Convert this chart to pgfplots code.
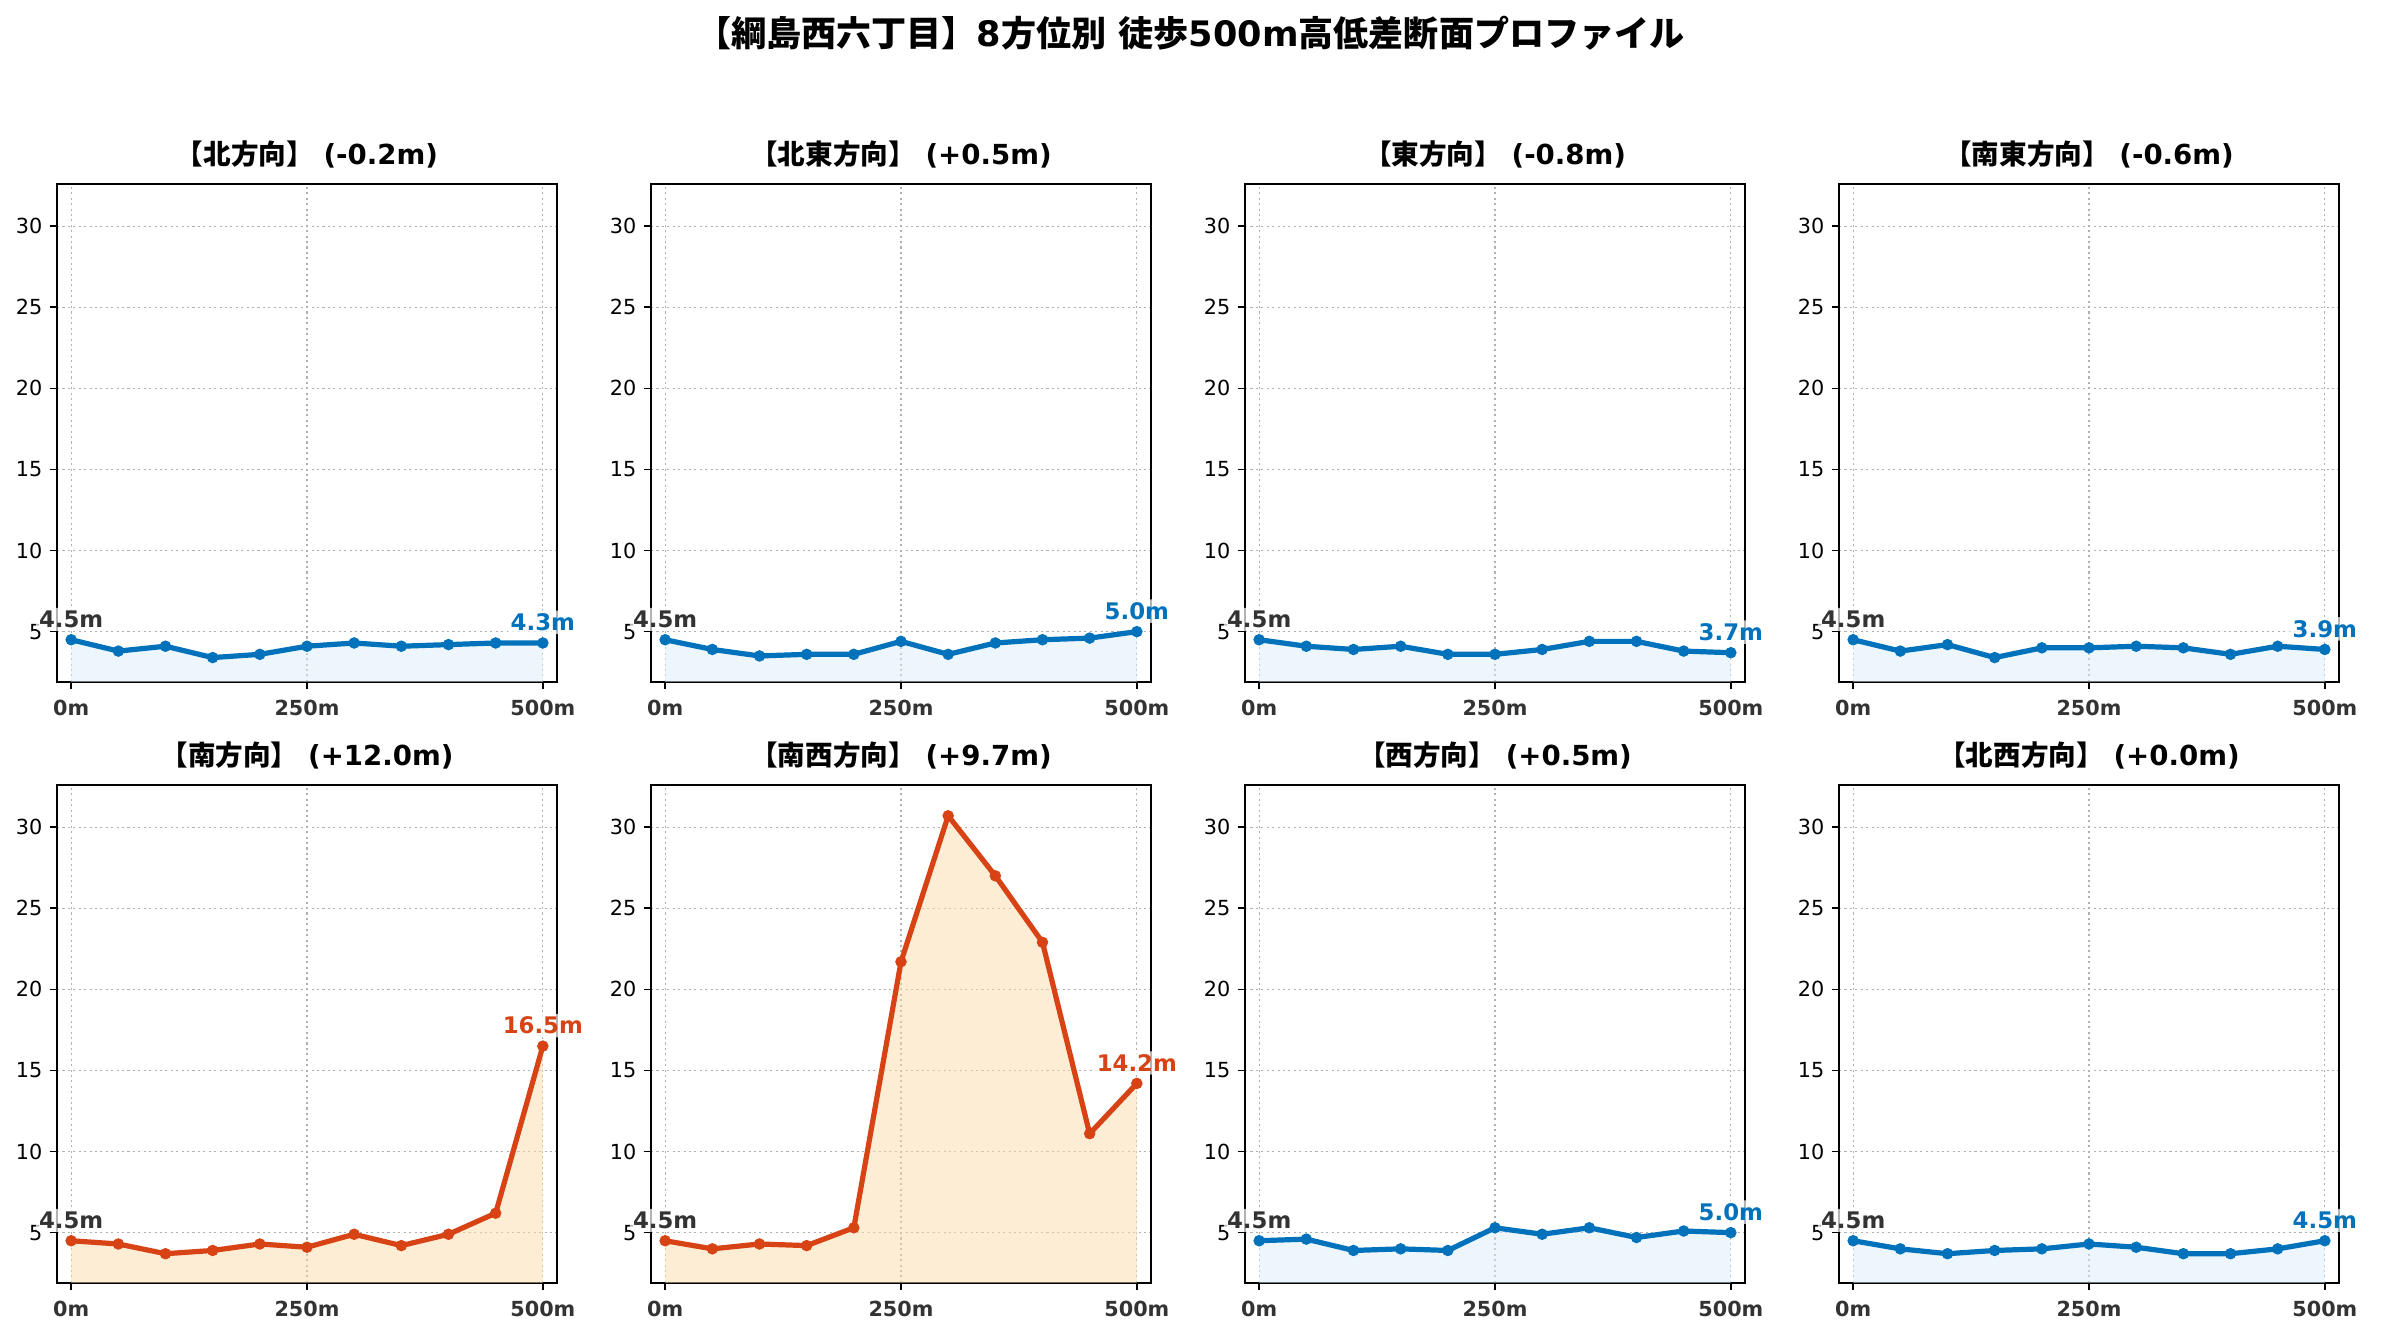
\documentclass[border=0pt]{standalone}
\usepackage{fontspec}
\setmainfont{DejaVu Sans}
\newfontfamily\cjk{Noto Sans CJK JP}
\usepackage{pgfplots}
\pgfplotsset{compat=1.18}
\definecolor{lblue}{HTML}{0072BC}
\definecolor{fblue}{HTML}{D9EDF9}
\definecolor{lred}{HTML}{D84315}
\definecolor{fred}{HTML}{FBDBA9}
\definecolor{txtgray}{HTML}{333333}
\definecolor{gridgray}{HTML}{B0B0B0}
\tikzset{lab/.style={anchor=south, yshift=4bp, fill=white, fill opacity=0.7, text opacity=1, rounded corners=2bp, inner sep=1.5bp, font=\fontsize{11}{13}\selectfont\bfseries}}
\pgfplotsset{
 prof/.style={
  scale only axis, width=240bp, height=239bp,
  xmin=-15, xmax=515, ymin=1.9, ymax=32.6,
  xtick={0,250,500}, xticklabels={0m,250m,500m},
  ytick={5,10,15,20,25,30}, yticklabels={5,10,15,20,25,30},
  xticklabel style={font=\fontsize{10}{12}\selectfont\bfseries, text=txtgray, yshift=-1.5bp},
  yticklabel style={font=\fontsize{10}{12}\selectfont},
  tick align=outside, tick pos=left, major tick length=3.5bp,
  every tick/.style={black, line width=0.8bp},
  axis line style={line width=0.8bp},
  grid=major, major grid style={gridgray, line width=0.6bp, dash pattern=on 1bp off 1.6bp},
  title style={font=\fontsize{13.3}{16}\selectfont\bfseries, at={(0.5,1)}, anchor=center, yshift=8bp},
  clip mode=individual,
 },
}
\newcommand{\panel}[7]{%
\begin{axis}[prof, at={(#1,#2)}, anchor=north west, title={#3}]
\addplot[draw=none, fill=#5, fill opacity=0.5] coordinates {#6} \closedcycle;
\addplot[#4, line width=2.5bp, mark=*, mark size=2.5bp, mark options={solid, fill=#4, draw=#4, line width=0.5bp}] coordinates {#6};
\node[lab, text=txtgray] at (axis cs:0,4.5) {4.5m};
\node[lab, text=#4] at (axis cs:500,#7) {#7m};
\end{axis}}
\begin{document}
\begin{tikzpicture}
\useasboundingbox (0,0) rectangle (1142.88bp,643.2bp);
\node[font=\fontsize{16.9}{20}\selectfont\bfseries] at (571.4bp,627.4bp) {{\cjk 【綱島西六丁目】}8{\cjk 方位別} {\cjk 徒歩}500m{\cjk 高低差断面プロファイル}};
\panel{27.36bp}{554.88bp}{{\cjk 【北方向】} (-0.2m)}{lblue}{fblue}{(0,4.5) (50,3.8) (100,4.1) (150,3.4) (200,3.6) (250,4.1) (300,4.3) (350,4.1) (400,4.2) (450,4.3) (500,4.3)}{4.3}
\panel{312.48bp}{554.88bp}{{\cjk 【北東方向】} (+0.5m)}{lblue}{fblue}{(0,4.5) (50,3.9) (100,3.5) (150,3.6) (200,3.6) (250,4.4) (300,3.6) (350,4.3) (400,4.5) (450,4.6) (500,5.0)}{5.0}
\panel{597.6bp}{554.88bp}{{\cjk 【東方向】} (-0.8m)}{lblue}{fblue}{(0,4.5) (50,4.1) (100,3.9) (150,4.1) (200,3.6) (250,3.6) (300,3.9) (350,4.4) (400,4.4) (450,3.8) (500,3.7)}{3.7}
\panel{882.72bp}{554.88bp}{{\cjk 【南東方向】} (-0.6m)}{lblue}{fblue}{(0,4.5) (50,3.8) (100,4.2) (150,3.4) (200,4.0) (250,4.0) (300,4.1) (350,4.0) (400,3.6) (450,4.1) (500,3.9)}{3.9}
\panel{27.36bp}{266.4bp}{{\cjk 【南方向】} (+12.0m)}{lred}{fred}{(0,4.5) (50,4.3) (100,3.7) (150,3.9) (200,4.3) (250,4.1) (300,4.9) (350,4.2) (400,4.9) (450,6.2) (500,16.5)}{16.5}
\panel{312.48bp}{266.4bp}{{\cjk 【南西方向】} (+9.7m)}{lred}{fred}{(0,4.5) (50,4.0) (100,4.3) (150,4.2) (200,5.3) (250,21.7) (300,30.7) (350,27.0) (400,22.9) (450,11.1) (500,14.2)}{14.2}
\panel{597.6bp}{266.4bp}{{\cjk 【西方向】} (+0.5m)}{lblue}{fblue}{(0,4.5) (50,4.6) (100,3.9) (150,4.0) (200,3.9) (250,5.3) (300,4.9) (350,5.3) (400,4.7) (450,5.1) (500,5.0)}{5.0}
\panel{882.72bp}{266.4bp}{{\cjk 【北西方向】} (+0.0m)}{lblue}{fblue}{(0,4.5) (50,4.0) (100,3.7) (150,3.9) (200,4.0) (250,4.3) (300,4.1) (350,3.7) (400,3.7) (450,4.0) (500,4.5)}{4.5}
\end{tikzpicture}
\end{document}
